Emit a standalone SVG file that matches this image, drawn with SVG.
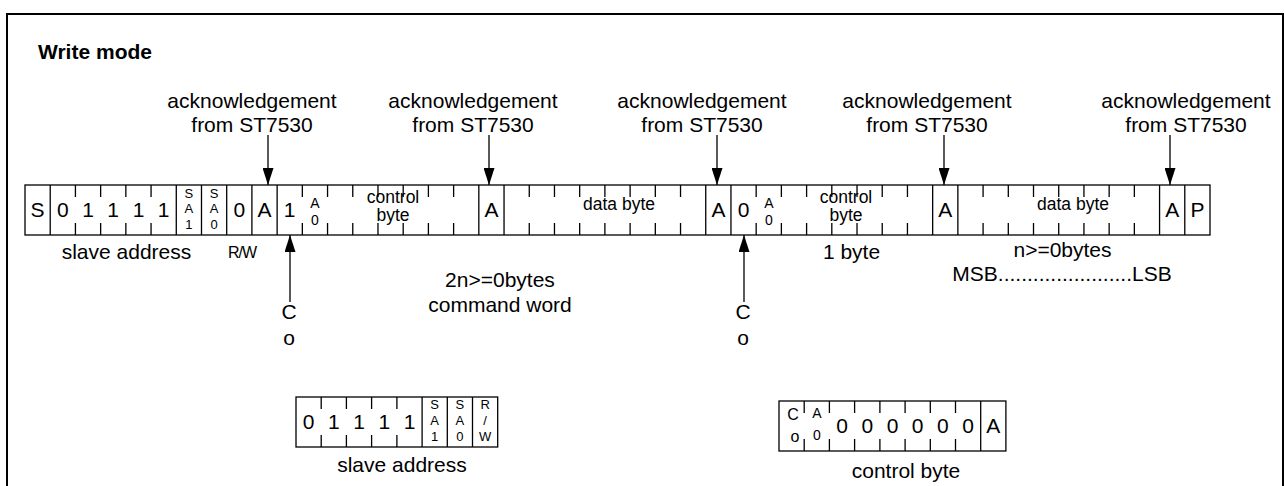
<svg xmlns="http://www.w3.org/2000/svg" width="1284" height="486" viewBox="0 0 1284 486">
<style>
text{font-family:"Liberation Sans",Arial,sans-serif;fill:#000}
.big{font-size:21px;text-anchor:middle}
.mid{font-size:17.5px;text-anchor:middle}
.sm{font-size:13px;text-anchor:middle}
.a0{font-size:14px;text-anchor:middle}
.rw{font-size:16px;text-anchor:middle;letter-spacing:-1px}
.title{font-size:21px;font-weight:bold}
.cell{fill:none;stroke:#000;stroke-width:1.3}
.ln{stroke:#000;stroke-width:1.3;fill:none}
.arr{stroke:#000;stroke-width:1.3;fill:none;marker-end:url(#ah)}
</style>
<defs>
<marker id="ah" viewBox="0 0 17 11" markerWidth="17" markerHeight="11" refX="17" refY="5.5" orient="auto" markerUnits="userSpaceOnUse">
<path d="M0,0 L17,5.5 L0,11 z" fill="#000"/>
</marker>
</defs>
<rect x="7" y="14" width="1276" height="480" fill="#fff" stroke="#000" stroke-width="2"/>
<text class="title" x="38" y="59">Write mode</text>

<g id="labels">
<text class="big" x="252" y="108">acknowledgement</text>
<text class="big" x="252" y="132">from ST7530</text>
<text class="big" x="473" y="108">acknowledgement</text>
<text class="big" x="473" y="132">from ST7530</text>
<text class="big" x="702" y="108">acknowledgement</text>
<text class="big" x="702" y="132">from ST7530</text>
<text class="big" x="927" y="108">acknowledgement</text>
<text class="big" x="927" y="132">from ST7530</text>
<text class="big" x="1186" y="108">acknowledgement</text>
<text class="big" x="1186" y="132">from ST7530</text>
<text class="big" x="126.5" y="259">slave address</text>
<text class="rw" x="242" y="258">R/W</text>
<text class="big" x="500" y="287">2n&gt;=0bytes</text>
<text class="big" x="500" y="312">command word</text>
<text class="big" x="851.5" y="259">1 byte</text>
<text class="big" x="1062.5" y="257">n&gt;=0bytes</text>
<text class="big" x="1062" y="281">MSB.......................LSB</text>
<text class="big" x="289" y="319">C</text>
<text class="big" x="289" y="345">o</text>
<text class="big" x="743" y="319">C</text>
<text class="big" x="743" y="345">o</text>
</g>

<g id="frame-row">
<rect class="cell" x="25" y="185" width="1185" height="50"/>
<path class="ln" d="M50.21,185V235 M176.28,185V235 M201.49,185V235 M226.70,185V235 M251.91,185V235 M277.13,185V235 M478.83,185V235 M504.04,185V235 M705.74,185V235 M730.96,185V235 M932.66,185V235 M957.87,185V235 M1159.57,185V235 M1184.79,185V235"/>
<path class="ln" d="M75.43,185v12M75.43,235v-12 M100.64,185v12M100.64,235v-12 M125.85,185v12M125.85,235v-12 M151.06,185v12M151.06,235v-12
M302.34,185v12M302.34,235v-12 M327.55,185v12M327.55,235v-12 M352.77,185v12M352.77,235v-12 M377.98,185v12M377.98,235v-12 M403.19,185v12M403.19,235v-12 M428.40,185v12M428.40,235v-12 M453.62,185v12M453.62,235v-12
M529.26,185v12M529.26,235v-12 M554.47,185v12M554.47,235v-12 M579.68,185v12M579.68,235v-12 M604.89,185v12M604.89,235v-12 M630.11,185v12M630.11,235v-12 M655.32,185v12M655.32,235v-12 M680.53,185v12M680.53,235v-12
M756.17,185v12M756.17,235v-12 M781.38,185v12M781.38,235v-12 M806.60,185v12M806.60,235v-12 M831.81,185v12M831.81,235v-12 M857.02,185v12M857.02,235v-12 M882.23,185v12M882.23,235v-12 M907.45,185v12M907.45,235v-12
M983.09,185v12M983.09,235v-12 M1008.30,185v12M1008.30,235v-12 M1033.51,185v12M1033.51,235v-12 M1058.72,185v12M1058.72,235v-12 M1083.94,185v12M1083.94,235v-12 M1109.15,185v12M1109.15,235v-12 M1134.36,185v12M1134.36,235v-12"/>
<text class="big" x="37.6" y="217">S</text>
<text class="big" x="62.8" y="217">0</text>
<text class="big" x="88.0" y="217">1</text>
<text class="big" x="113.2" y="217">1</text>
<text class="big" x="138.5" y="217">1</text>
<text class="big" x="163.7" y="217">1</text>
<text class="sm" x="188.9" y="198">S</text><text class="sm" x="188.9" y="213">A</text><text class="sm" x="188.9" y="229">1</text>
<text class="sm" x="214.1" y="198">S</text><text class="sm" x="214.1" y="213">A</text><text class="sm" x="214.1" y="229">0</text>
<text class="big" x="239.3" y="217">0</text>
<text class="big" x="264.5" y="217">A</text>
<text class="big" x="289.7" y="217">1</text>
<text class="a0" x="315.0" y="208">A</text><text class="a0" x="315.0" y="225">0</text>
<text class="mid" x="393" y="203">control</text>
<text class="mid" x="393" y="221">byte</text>
<text class="big" x="491.4" y="217">A</text>
<text class="mid" x="619" y="210">data byte</text>
<text class="big" x="718.4" y="217">A</text>
<text class="big" x="743.6" y="217">0</text>
<text class="a0" x="768.8" y="208">A</text><text class="a0" x="768.8" y="225">0</text>
<text class="mid" x="846" y="203">control</text>
<text class="mid" x="846" y="221">byte</text>
<text class="big" x="945.3" y="217">A</text>
<text class="mid" x="1073" y="210">data byte</text>
<text class="big" x="1172.2" y="217">A</text>
<text class="big" x="1197.4" y="217">P</text>
</g>

<g id="slave-address-box">
<rect class="cell" x="296" y="397" width="201.7" height="50"/>
<path class="ln" d="M422.1,397V447 M447.3,397V447 M472.5,397V447"/>
<path class="ln" d="M321.2,397v12M321.2,447v-12 M346.4,397v12M346.4,447v-12 M371.6,397v12M371.6,447v-12 M396.9,397v12M396.9,447v-12"/>
<text class="big" x="308.6" y="429">0</text>
<text class="big" x="333.8" y="429">1</text>
<text class="big" x="359.0" y="429">1</text>
<text class="big" x="384.3" y="429">1</text>
<text class="big" x="409.5" y="429">1</text>
<text class="sm" x="434.7" y="409">S</text><text class="sm" x="434.7" y="425">A</text><text class="sm" x="434.7" y="441">1</text>
<text class="sm" x="459.9" y="409">S</text><text class="sm" x="459.9" y="425">A</text><text class="sm" x="459.9" y="441">0</text>
<text class="sm" x="485.1" y="409">R</text><text class="sm" x="485.1" y="425">/</text><text class="sm" x="485.1" y="441">W</text>
<text class="big" x="402" y="472">slave address</text>
</g>

<g id="control-byte-box">
<rect class="cell" x="779" y="401" width="226.9" height="50"/>
<path class="ln" d="M980.7,401V451"/>
<path class="ln" d="M804.2,401v12M804.2,451v-12 M829.4,401v12M829.4,451v-12 M854.6,401v12M854.6,451v-12 M879.9,401v12M879.9,451v-12 M905.1,401v12M905.1,451v-12 M930.3,401v12M930.3,451v-12 M955.5,401v12M955.5,451v-12"/>
<text class="a0" x="793" y="420" style="font-size:16px">C</text><text class="a0" x="795" y="442" style="font-size:16px">o</text>
<text class="a0" x="817" y="418">A</text><text class="a0" x="817" y="440">0</text>
<text class="big" x="842.0" y="433">0</text>
<text class="big" x="867.3" y="433">0</text>
<text class="big" x="892.5" y="433">0</text>
<text class="big" x="917.7" y="433">0</text>
<text class="big" x="942.9" y="433">0</text>
<text class="big" x="968.1" y="433">0</text>
<text class="big" x="993.3" y="433">A</text>
<text class="big" x="906" y="478">control byte</text>
</g>

<g id="connectors">
<line class="arr" x1="268" y1="135" x2="268" y2="185"/>
<line class="arr" x1="489" y1="135" x2="489" y2="185"/>
<line class="arr" x1="717" y1="135" x2="717" y2="185"/>
<line class="arr" x1="944" y1="135" x2="944" y2="185"/>
<line class="arr" x1="1170" y1="135" x2="1170" y2="185"/>
<line class="arr" x1="290" y1="302" x2="290" y2="235"/>
<line class="arr" x1="744" y1="302" x2="744" y2="235"/>
</g>
</svg>
